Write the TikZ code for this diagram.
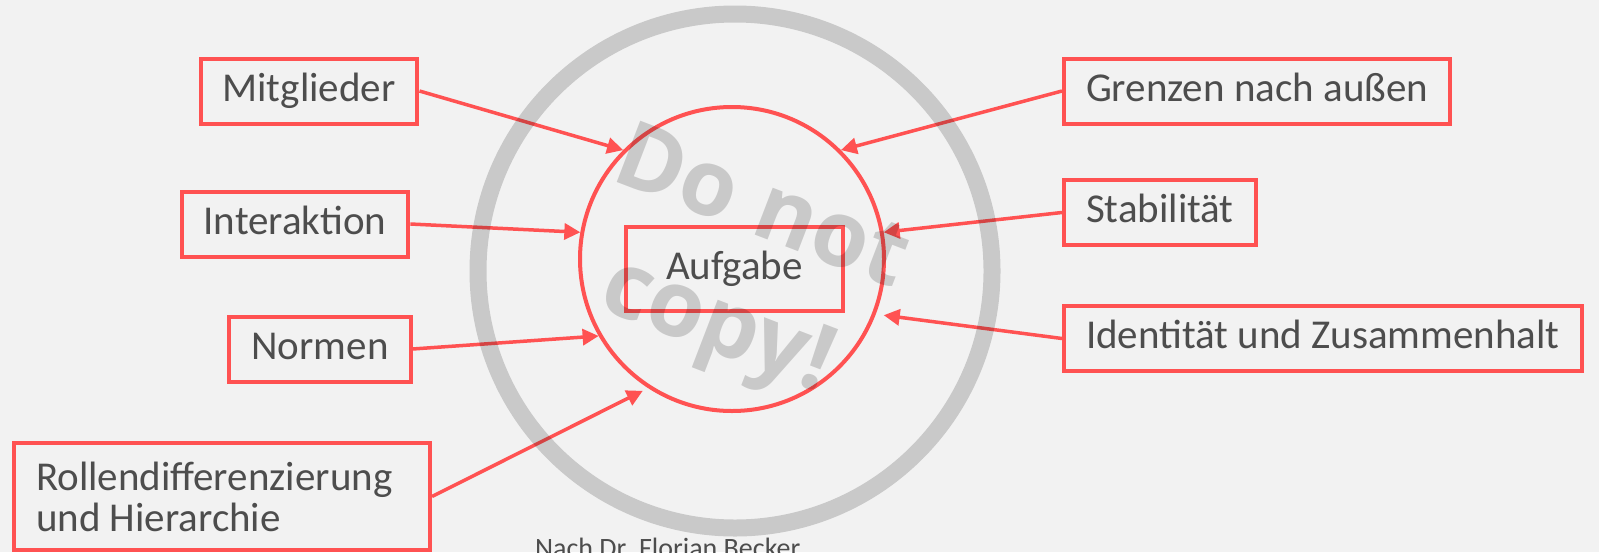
\documentclass[tikz,border=0pt]{standalone}
\usepackage{fontspec}
\setmainfont{Carlito}
\newfontfamily\stampfont{Open Sans}
\usepackage{tikz}
\usetikzlibrary{arrows.meta}
\definecolor{rot}{HTML}{FF5252}
\definecolor{txt}{HTML}{4D4D4D}
\definecolor{bg}{HTML}{F2F2F2}

\begin{document}
\begin{tikzpicture}[x=0.5pt,y=-0.5pt]
        \tikzstyle{every node} = [rectangle, text=txt, font=\fontsize{20.5}{20.5}\selectfont]
        \tikzstyle{box} = [draw=rot, line width=2pt, inner xsep=11pt, inner ysep=4pt,
                           minimum height=32.5pt, text height=15pt, text depth=5pt]
        \tikzstyle{pfeil} = [draw=rot, line width=1.75pt, -{Triangle[length=8pt,width=8pt]}]
        \useasboundingbox (0,0) rectangle (1599,552);
        \fill[bg] (0,0) rectangle (1599,552);

        \node[circle, draw=rot, line width=2pt, minimum size=152pt] (0) at (732,259) {};
        \node[box, minimum width=108.5pt, minimum height=42pt] (1) at (734.5,269) {Aufgabe};

        \node[box] (2) at (309,91) {Mitglieder};
        \node[box] (3) at (295,224) {Interaktion};
        \node[box] (4) at (320,349) {Normen};
        \node[box, anchor=west, align=flush left, text width=186pt, minimum height=53.5pt,
              text height=, text depth=] (5) at (12,496.5) {Rollendifferenzierung\\und Hierarchie};
        \node[box, anchor=west] (6) at (1062,91) {Grenzen nach außen};
        \node[box, anchor=west] (7) at (1062,212.5) {Stabilität};
        \node[box, anchor=west] (8) at (1062,338.5) {Identität und Zusammenhalt};

        \foreach \from/\to/\s in {2.east/0.135/0pt, 3.east/0.170/0pt, 4.east/0.210/0pt,
                                  5.east/0.237/3pt, 6.west/0.45/0pt, 7.west/0.10/0pt,
                                  8.west/0.339/4pt}
            \draw[pfeil, shorten >=\s] (\from) -- (\to);

        \node[anchor=base west, font=\fontsize{14}{14}\selectfont] (9) at (528,557) {Nach Dr. Florian Becker};

        % stamp
        \draw[black, opacity=0.17, line width=8.5pt] (735,271) circle [radius=128.5pt];
        \node[rotate=-21, text=black, opacity=0.17, align=center,
              font=\stampfont\bfseries\fontsize{46}{62}\selectfont] (10) at (738,272) {Do not\\copy!};
\end{tikzpicture}
\end{document}
